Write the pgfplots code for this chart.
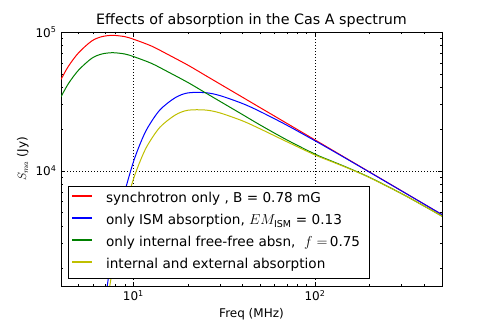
\documentclass[border=0pt]{standalone}
\usepackage{fontspec}
\setmainfont{DejaVu Sans}
\usepackage{pgfplots}
\pgfplotsset{compat=1.18}
\definecolor{mplred}{rgb}{1,0,0}
\definecolor{mplblue}{rgb}{0,0,1}
\definecolor{mplgreen}{rgb}{0,0.5,0}
\definecolor{mplyellow}{rgb}{0.75,0.75,0}
\begin{document}
\begin{tikzpicture}
\begin{axis}[
  xmode=log, ymode=log,
  scale only axis, width=381pt, height=254pt,
  xmin=4, xmax=500, ymin=1480, ymax=100000,
  xtick={10,100}, xticklabels={10\textsuperscript{1},10\textsuperscript{2}},
  ytick={10000,100000}, yticklabels={10\textsuperscript{4},10\textsuperscript{5}},
  minor xtick={4,5,6,7,8,9,20,30,40,50,60,70,80,90,200,300,400,500},
  minor ytick={2000,3000,4000,5000,6000,7000,8000,9000,20000,30000,40000,50000,60000,70000,80000,90000},
  grid=major, major grid style={black, dash pattern=on 1pt off 2pt, line width=0.6pt},
  tick align=inside, major tick length=4pt, minor tick length=2pt,
  every tick/.style={black, line width=0.5pt},
  axis line style={line width=0.8pt},
  ticklabel style={font=\fontsize{12}{14}\selectfont},
  xticklabel style={yshift=-1pt},
  yticklabel style={xshift=-1pt},
  title={Effects of absorption in the Cas A spectrum},
  title style={font=\fontsize{14.3}{17}\selectfont, yshift=-5pt},
  xlabel={Freq (MHz)}, ylabel={$S_{ma}$ (Jy)},
  label style={font=\fontsize{12}{14}\selectfont},
  xlabel style={yshift=-1pt},
  legend cell align=left,
  legend style={at={(0.018,0.028)}, anchor=south west, draw=black, line width=0.8pt, fill=white,
    font=\fontsize{13.6}{16}\selectfont, inner xsep=3pt, inner ysep=3pt, row sep=2pt,
    nodes={inner xsep=6pt, inner ysep=3pt, text height=10.5pt, text depth=3.5pt},
    /tikz/every odd column/.append style={column sep=7pt}},
  legend image code/.code={\draw[#1,line width=1.8pt] (0pt,3.5pt) -- (20pt,3.5pt);},
  every axis plot/.append style={line width=1pt, smooth},
]
\addplot[draw=mplred] coordinates {(4.0,45500)(4.4,56800)(5.0,70900)(5.9,86100)(6.7,92500)(7.7,94600)(9.0,92500)(10.1,88400)(12.6,79200)(15.5,68900)(20,57670)(25,48560)(30,42200)(40,33820)(50,28470)(70,21980)(100,16700)(150,12220)(200,9790)(300,7166)(400,5743)(500,4836)};
\addlegendentry{synchrotron only , B = 0.78 mG}
\addplot[draw=mplblue] coordinates {(7.0,1158)(7.2,1507)(7.5,2145)(8.0,3501)(8.5,5187)(9.0,7164)(10,11540)(11,16080)(12,20460)(14,27430)(17,33610)(20,36420)(25,36540)(30,34820)(40,30490)(50,26700)(70,21310)(100,16460)(120,14380)(150,12150)(200,9760)(300,7157)(400,5740)(500,4834)};
\addlegendentry{only ISM absorption, $EM_{\mathrm{ISM}}$ = 0.13}
\addplot[draw=mplgreen] coordinates {(4.0,34130)(4.4,42600)(5.0,53180)(5.9,64580)(6.7,69380)(7.7,70950)(9.0,69380)(10.1,66300)(12.6,59400)(15.5,51680)(20,43250)(25,36420)(30,31650)(40,25370)(50,21350)(70,16700)(100,13190)(120,11930)(150,10580)(200,8958)(300,6844)(400,5559)(500,4715)};
\addlegendentry{only internal free-free absn,\ \ $f=$\,0.75}
\addplot[draw=mplyellow] coordinates {(7.0,868)(7.2,1130)(7.5,1609)(8.0,2626)(8.5,3890)(9.0,5373)(10,8655)(11,12060)(12,15345)(14,20570)(17,25210)(20,27320)(25,27400)(30,26120)(40,22870)(50,20030)(70,16200)(100,13000)(120,11820)(150,10520)(200,8930)(300,6835)(400,5556)(500,4713)};
\addlegendentry{internal and external absorption}
\end{axis}
\path ([xshift=-61pt,yshift=-41pt]current axis.south west) rectangle ([xshift=49pt,yshift=32pt]current axis.north east);
\end{tikzpicture}
\end{document}
